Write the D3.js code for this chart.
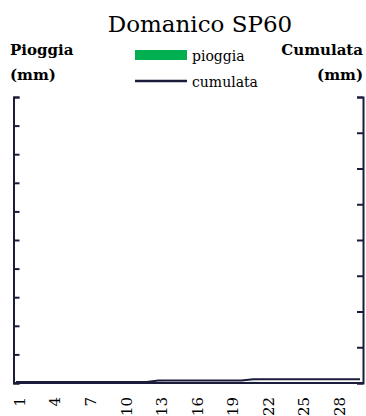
<!DOCTYPE html>
<html>
<head>
<meta charset="utf-8">
<script src="https://cdn.jsdelivr.net/npm/d3@7"></script>
<style>
  body { margin: 0; background: #fff; }
  text { font-family: "DejaVu Serif", serif; fill: #000; }
</style>
</head>
<body>
<div id="chart"></div>
<script>
var days = d3.range(1, 31);
var pioggia = [0,0,0,0,0,0,0,0,0,0,0,0,0.2,0,0,0,0,0,0,0,0.2,0,0,0,0,0,0,0,0,0];
var dayTicks = [1, 4, 7, 10, 13, 16, 19, 22, 25, 28];
var leftTicks = d3.range(0, 55, 5);
var rightTicks = d3.range(0, 45, 5);

var cumulata = [];
var sum = 0;
pioggia.forEach(function(v) { sum += v; cumulata.push(sum); });

var svgWidth = 366, svgHeight = 416;
var margin = { top: 97, right: 3, bottom: 33, left: 13.5 };
var width = svgWidth - margin.left - margin.right;
var height = svgHeight - margin.top - margin.bottom;
var navy = "#1b1b3a";

var svg = d3.select("#chart").append("svg")
  .attr("width", svgWidth)
  .attr("height", svgHeight);

var g = svg.append("g")
  .attr("transform", `translate(${margin.left}, ${margin.top})`);

var x = d3.scalePoint().domain(days).range([2.5, width - 3]);
var yLeft = d3.scaleLinear().domain([0, 50]).range([height, 0]);
var yRight = d3.scaleLinear().domain([0, 40]).range([height, 0]);

// bars
g.selectAll("rect.bar")
  .data(days)
  .enter()
  .append("rect")
  .attr("class", "bar")
  .attr("x", d => x(d) - 4)
  .attr("width", 8)
  .attr("y", (d, i) => yLeft(pioggia[i]))
  .attr("height", (d, i) => height - yLeft(pioggia[i]))
  .attr("fill", "#00b050");

// axes
var leftAxis = g.append("g")
  .call(d3.axisLeft(yLeft).tickValues(leftTicks).tickSize(-6).tickFormat(""));
var rightAxis = g.append("g")
  .attr("transform", `translate(${width}, 0)`)
  .call(d3.axisRight(yRight).tickValues(rightTicks).tickSize(-6).tickFormat(""));
var bottomAxis = g.append("g")
  .attr("transform", `translate(0, ${height})`)
  .call(d3.axisBottom(x).tickValues(dayTicks).tickSize(0));

[leftAxis, rightAxis, bottomAxis].forEach(function(a) {
  a.select(".domain").attr("stroke", navy).attr("stroke-width", 2);
  a.selectAll(".tick line").attr("stroke", navy).attr("stroke-width", 2);
});
bottomAxis.select(".domain").attr("d", `M0,0H${width}`);

bottomAxis.selectAll(".tick text")
  .attr("transform", "rotate(-90)")
  .attr("text-anchor", "end")
  .attr("x", -14)
  .attr("y", 0)
  .attr("dy", "0.55em")
  .attr("font-family", "Liberation Serif")
  .attr("font-size", 15)
  .attr("fill", "#000");

// cumulative line
var line = d3.line()
  .x((d, i) => x(days[i]))
  .y(d => yRight(d) - 1);

g.append("path")
  .datum(cumulata)
  .attr("fill", "none")
  .attr("stroke", navy)
  .attr("stroke-width", 2)
  .attr("d", line);

// title and axis titles
svg.append("text")
  .attr("x", 200).attr("y", 32)
  .attr("text-anchor", "middle")
  .attr("font-size", 23)
  .text("Domanico SP60");

svg.append("text").attr("x", 10).attr("y", 55)
  .attr("font-size", 15).attr("font-weight", "bold").text("Pioggia");
svg.append("text").attr("x", 10).attr("y", 80)
  .attr("font-size", 15).attr("font-weight", "bold").text("(mm)");
svg.append("text").attr("x", 363).attr("y", 55).attr("text-anchor", "end")
  .attr("font-size", 15).attr("font-weight", "bold").text("Cumulata");
svg.append("text").attr("x", 363).attr("y", 80).attr("text-anchor", "end")
  .attr("font-size", 15).attr("font-weight", "bold").text("(mm)");

// legend
var legend = svg.append("g").attr("transform", "translate(135, 50)");
legend.append("rect")
  .attr("width", 52).attr("height", 10)
  .attr("fill", "#00b050");
legend.append("text").attr("x", 57).attr("y", 11)
  .attr("font-size", 14).text("pioggia");
legend.append("line")
  .attr("x1", 0).attr("x2", 52).attr("y1", 31).attr("y2", 31)
  .attr("stroke", navy).attr("stroke-width", 2.5);
legend.append("text").attr("x", 57).attr("y", 37)
  .attr("font-size", 14).text("cumulata");
</script>
</body>
</html>
